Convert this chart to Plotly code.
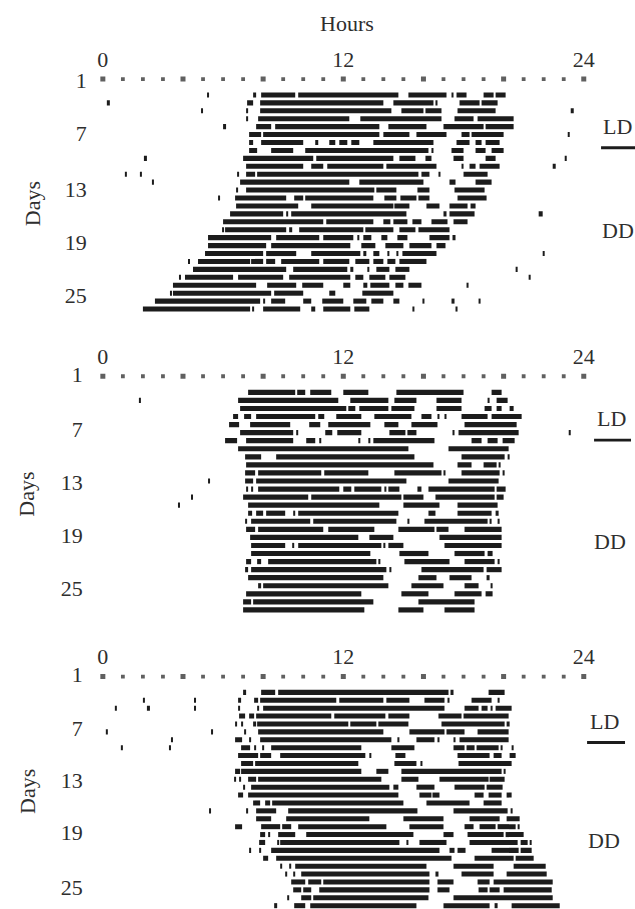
import plotly.graph_objects as go

# ---------------------------------------------------------------------------
# Actogram data: each list holds the activity bouts (start hour, end hour)
# for consecutive rows, starting with the first row below the hour marks.
# ---------------------------------------------------------------------------
HOUR_TICKS = [0, 12, 24]
DAY_TICK_TEXT = ["1", "7", "13", "19", "25"]
HOUR_MARKS = [0, 1, 2, 3, 4, 5, 6, 7, 8, 9, 10, 11, 12,
              13, 14, 15, 16, 17, 18, 19, 20, 21, 22, 23, 24]
MAJOR_MARKS = [0, 4, 8, 12, 16, 20, 24]
FIRST_ACTIVITY_ROW = 2

PANEL1_BOUTS = [
    [(5.2, 5.3), (7.5, 7.65), (7.9, 9.6), (9.75, 14.75), (15.25, 17.15), (17.4, 17.5), (17.65, 18.15), (19.0, 19.5), (19.6, 20.1)],
    [(0.2, 0.35), (7.2, 7.5), (7.85, 14.0), (14.5, 16.5), (16.6, 16.7), (17.8, 18.8), (18.9, 19.7)],
    [(4.9, 5.0), (7.15, 7.25), (7.85, 14.4), (14.9, 16.0), (16.1, 16.9), (17.7, 19.6), (23.35, 23.5)],
    [(7.15, 7.25), (7.75, 12.3), (12.85, 16.9), (17.55, 18.5), (18.7, 20.5)],
    [(6.0, 6.15), (7.65, 8.4), (8.6, 13.8), (14.25, 16.15), (17.0, 19.0), (19.1, 20.5)],
    [(7.3, 7.9), (8.0, 13.8), (14.0, 15.3), (15.65, 17.15), (17.9, 18.3), (18.4, 20.0), (23.2, 23.3)],
    [(7.3, 7.5), (7.9, 10.0), (10.6, 10.75), (11.3, 11.6), (11.8, 12.2), (12.4, 12.8), (13.5, 16.5), (17.65, 18.3), (18.6, 18.9), (19.1, 19.8)],
    [(7.3, 7.7), (8.4, 9.5), (10.1, 16.25), (16.4, 16.5), (17.4, 18.0), (18.6, 19.1), (19.4, 20.0)],
    [(2.05, 2.2), (7.0, 10.5), (10.65, 14.5), (14.8, 15.6), (16.1, 16.4), (17.5, 18.0), (19.1, 19.6), (23.05, 23.15)],
    [(7.15, 10.0), (10.4, 11.0), (11.2, 14.0), (14.15, 16.65), (17.9, 18.0), (18.3, 18.6), (18.8, 19.8), (22.45, 22.6)],
    [(1.1, 1.2), (1.85, 1.95), (6.7, 6.8), (7.15, 7.6), (7.7, 15.75), (15.9, 16.3), (16.75, 16.85), (18.0, 19.2)],
    [(2.45, 2.55), (6.85, 12.3), (12.8, 16.0), (17.3, 17.6), (18.6, 19.4)],
    [(6.65, 6.75), (7.15, 13.55), (13.65, 14.65), (15.7, 16.3), (17.55, 19.05)],
    [(5.75, 5.85), (6.6, 9.15), (9.55, 10.0), (10.1, 13.5), (14.05, 14.65), (14.85, 15.65), (15.75, 16.3), (17.7, 19.15)],
    [(6.65, 9.75), (10.4, 14.5), (14.55, 15.3), (16.15, 16.8), (17.3, 18.2), (18.35, 18.6)],
    [(6.35, 9.0), (9.15, 9.25), (9.4, 15.15), (17.0, 17.15), (17.3, 18.55), (21.75, 21.95)],
    [(6.0, 11.0), (11.15, 13.5), (14.0, 14.35), (14.5, 15.2), (15.45, 15.9), (16.4, 17.2), (17.5, 18.2)],
    [(5.95, 6.05), (6.1, 9.15), (9.3, 9.45), (9.8, 13.0), (13.1, 14.5), (14.8, 15.6), (15.75, 17.3)],
    [(5.25, 8.4), (8.65, 10.8), (11.0, 12.5), (12.7, 12.8), (13.0, 13.4), (13.9, 14.2), (14.7, 15.2), (16.3, 17.3), (17.45, 17.6)],
    [(5.25, 8.15), (8.4, 12.35), (12.9, 13.6), (14.1, 15.0), (15.3, 16.4), (16.65, 17.1)],
    [(5.1, 8.0), (8.15, 9.65), (10.4, 12.85), (13.0, 13.15), (13.5, 13.8), (14.2, 14.3), (14.65, 14.75), (14.95, 16.65), (21.95, 22.05)],
    [(4.25, 4.35), (4.75, 7.35), (7.4, 8.0), (8.15, 8.6), (8.9, 10.8), (11.0, 12.3), (12.6, 13.3), (13.5, 14.0), (14.2, 14.6), (14.8, 16.15)],
    [(4.5, 9.15), (9.5, 12.2), (12.35, 12.5), (13.2, 13.3), (13.65, 14.3), (14.6, 15.3), (20.6, 20.7)],
    [(3.8, 3.9), (4.1, 6.5), (6.75, 9.0), (9.3, 12.35), (12.6, 13.0), (13.3, 14.1), (14.3, 15.1), (21.25, 21.35)],
    [(3.5, 7.65), (8.2, 9.65), (9.95, 11.0), (12.0, 12.35), (13.0, 13.2), (13.35, 14.3), (14.6, 15.0), (15.25, 15.9), (18.15, 18.25)],
    [(3.35, 3.45), (3.5, 8.4), (8.55, 10.0), (11.3, 11.6), (12.95, 14.5)],
    [(2.6, 7.85), (8.0, 8.1), (8.4, 9.1), (10.0, 10.4), (10.95, 12.0), (12.5, 13.15), (13.4, 14.0), (14.5, 14.8), (15.95, 16.05), (17.4, 17.55), (18.75, 18.85)],
    [(2.0, 7.35), (7.45, 7.55), (8.0, 9.85), (10.4, 10.6), (11.0, 12.35), (12.55, 13.3), (15.45, 15.55), (17.6, 17.7)],
]

PANEL2_BOUTS = [
    [(7.25, 9.6), (9.7, 10.1), (10.35, 11.4), (12.0, 13.25), (14.65, 18.0), (19.4, 19.9)],
    [(1.8, 1.9), (6.75, 11.75), (12.35, 14.25), (14.55, 15.65), (16.65, 17.9), (19.2, 19.3), (19.65, 20.2)],
    [(6.85, 12.15), (12.25, 12.6), (12.8, 14.25), (14.4, 15.55), (16.65, 17.9), (19.05, 19.4), (19.65, 19.9), (20.3, 20.5)],
    [(6.5, 6.75), (7.05, 7.4), (7.65, 10.6), (10.75, 11.05), (11.65, 12.9), (13.55, 15.4), (15.9, 16.4), (16.7, 16.8), (17.05, 17.15), (17.9, 19.2), (19.4, 20.9)],
    [(6.3, 6.8), (7.35, 9.35), (10.3, 10.85), (11.25, 13.35), (14.05, 14.75), (15.4, 16.7), (18.05, 20.65)],
    [(6.85, 9.5), (9.65, 9.75), (11.1, 11.45), (11.7, 12.9), (14.3, 15.1), (15.2, 15.65), (17.45, 17.55), (17.75, 20.75), (23.25, 23.35)],
    [(6.1, 6.7), (7.15, 9.5), (10.15, 10.6), (10.8, 10.9), (12.75, 12.85), (13.25, 13.35), (13.5, 16.55), (18.4, 18.9), (19.2, 19.7), (19.95, 20.55)],
    [(6.75, 15.25), (17.25, 20.25)],
    [(7.1, 7.9), (8.65, 15.55), (17.9, 20.05), (20.2, 20.3)],
    [(7.15, 16.5), (17.7, 18.4), (19.0, 19.65), (19.75, 19.85)],
    [(7.1, 7.6), (7.75, 10.9), (11.05, 13.25), (14.55, 16.9), (17.0, 17.1), (17.9, 19.8), (19.95, 20.05)],
    [(5.25, 5.35), (7.1, 7.5), (7.65, 15.15), (17.25, 19.75)],
    [(7.15, 7.25), (7.4, 7.5), (7.75, 11.8), (12.0, 12.4), (12.55, 13.9), (14.05, 14.15), (14.25, 14.8), (15.7, 15.9), (16.25, 19.55), (19.65, 20.1)],
    [(4.4, 4.5), (7.0, 10.25), (10.4, 14.9), (15.0, 16.0), (16.6, 19.55), (19.65, 20.0)],
    [(3.75, 3.85), (7.25, 13.8), (15.0, 16.8), (17.7, 19.7)],
    [(7.25, 7.45), (7.65, 8.0), (8.15, 9.1), (9.5, 9.6), (9.75, 14.75), (16.25, 16.6), (17.7, 19.4), (19.6, 19.75)],
    [(7.1, 7.2), (7.4, 10.35), (10.5, 14.65), (15.2, 15.3), (16.05, 19.2), (19.3, 19.4), (19.7, 19.8)],
    [(7.15, 7.6), (7.75, 11.0), (11.25, 13.55), (14.75, 16.55), (16.65, 17.25), (18.05, 19.9)],
    [(7.35, 12.75), (13.3, 14.5), (16.8, 19.9)],
    [(7.4, 9.1), (9.45, 9.55), (9.75, 13.9), (14.0, 14.1), (14.25, 15.0), (17.05, 19.9)],
    [(7.4, 13.35), (14.8, 16.25), (17.55, 19.05), (19.2, 19.45)],
    [(7.15, 7.4), (7.7, 7.9), (8.25, 13.65), (13.75, 13.85), (15.05, 17.3), (18.05, 19.55), (19.7, 19.8)],
    [(7.1, 7.25), (7.4, 14.15), (14.3, 14.4), (15.9, 19.0), (19.15, 19.9)],
    [(7.25, 14.0), (15.75, 16.65), (17.3, 18.4), (19.15, 19.3)],
    [(7.75, 7.9), (8.0, 14.25), (15.4, 17.0), (18.05, 18.75), (19.35, 19.45)],
    [(7.15, 12.9), (14.9, 16.25), (17.55, 18.9), (19.1, 19.45)],
    [(7.0, 7.4), (7.5, 13.5), (15.75, 18.55)],
    [(7.0, 13.05), (14.75, 16.0), (17.05, 18.55)],
]

PANEL3_BOUTS = [
    [(7.0, 7.15), (7.9, 8.6), (8.75, 17.25), (17.35, 17.5), (19.25, 20.05)],
    [(2.0, 2.1), (4.55, 4.65), (6.75, 6.9), (7.55, 7.75), (7.85, 11.65), (11.8, 14.0), (14.15, 15.3), (16.05, 17.05), (17.2, 17.3), (18.4, 19.4), (19.7, 19.8)],
    [(0.6, 0.7), (2.2, 2.35), (4.55, 4.65), (6.75, 6.85), (7.7, 7.8), (8.0, 17.05), (18.05, 18.75), (18.9, 19.2), (19.35, 19.45), (19.6, 20.4)],
    [(6.8, 7.1), (7.3, 7.55), (7.65, 11.4), (11.55, 14.1), (14.25, 15.3), (16.75, 17.9), (18.0, 20.25)],
    [(6.6, 6.7), (6.9, 7.0), (7.5, 7.65), (7.7, 12.25), (12.35, 13.65), (13.75, 15.25), (16.9, 20.05), (20.15, 20.3)],
    [(0.15, 0.25), (5.4, 5.5), (7.05, 7.15), (7.75, 14.0), (15.3, 17.05), (17.15, 18.05), (18.7, 20.25)],
    [(3.4, 3.5), (6.6, 6.95), (7.3, 7.4), (7.85, 14.4), (14.7, 14.8), (15.65, 16.55), (16.7, 16.8), (17.5, 17.6), (17.8, 20.25)],
    [(0.9, 1.0), (3.3, 3.4), (6.9, 7.35), (7.55, 7.65), (7.95, 8.05), (8.4, 12.9), (14.4, 15.55), (17.5, 18.05), (18.15, 18.55), (18.65, 19.75), (19.85, 19.95), (20.4, 20.5)],
    [(6.75, 7.75), (7.85, 8.4), (8.85, 13.1), (13.3, 13.4), (14.6, 15.1), (17.7, 19.3), (19.5, 19.9), (20.3, 20.6)],
    [(6.9, 7.5), (7.6, 12.75), (14.55, 15.65), (15.85, 15.95), (17.75, 20.4)],
    [(6.6, 6.85), (6.9, 12.9), (13.65, 14.25), (14.9, 19.9), (20.0, 20.1)],
    [(6.55, 6.65), (6.8, 6.9), (7.25, 7.65), (7.75, 13.9), (14.9, 15.75), (16.8, 19.25), (19.3, 20.05)],
    [(7.0, 7.1), (7.4, 14.3), (14.5, 14.75), (15.65, 16.55), (17.55, 19.05), (19.15, 19.95)],
    [(6.75, 7.0), (7.25, 14.75), (15.8, 16.4), (16.45, 16.8), (18.55, 19.0), (19.25, 19.9), (20.15, 20.4)],
    [(7.5, 7.85), (8.1, 8.35), (8.45, 15.0), (16.15, 18.3), (19.0, 19.9)],
    [(5.3, 5.4), (7.15, 7.25), (7.65, 8.65), (9.25, 15.7), (17.5, 20.2), (20.35, 20.45)],
    [(7.65, 8.4), (9.15, 13.3), (15.0, 17.0), (18.3, 19.8), (20.15, 20.8)],
    [(6.6, 6.95), (7.9, 8.85), (8.95, 9.4), (9.75, 14.15), (15.3, 17.0), (18.05, 18.5), (18.8, 19.6), (19.7, 20.6), (20.7, 20.8)],
    [(7.85, 8.1), (8.25, 8.35), (8.75, 9.6), (10.15, 15.5), (17.0, 17.5), (18.2, 20.0), (20.1, 21.0)],
    [(7.8, 8.1), (8.7, 8.8), (8.85, 14.8), (15.15, 15.25), (15.8, 17.15), (18.3, 20.7), (20.85, 21.2), (21.3, 21.4)],
    [(7.3, 7.4), (7.8, 7.9), (8.4, 16.8), (17.3, 17.55), (17.7, 18.1), (19.4, 20.75), (20.85, 21.4)],
    [(8.0, 8.25), (8.65, 17.4), (18.55, 20.5), (20.6, 21.5)],
    [(8.85, 8.95), (9.3, 9.4), (9.6, 16.15), (17.5, 19.5), (20.5, 22.1)],
    [(9.1, 9.2), (9.5, 9.6), (9.9, 16.3), (16.6, 16.75), (17.9, 19.5), (20.15, 22.15)],
    [(9.4, 10.1), (10.25, 10.9), (11.0, 16.3), (16.7, 17.5), (18.7, 19.3), (19.5, 22.45)],
    [(9.5, 9.9), (10.0, 10.4), (10.8, 16.3), (16.7, 17.3), (18.75, 19.2), (19.3, 19.8), (20.0, 22.4)],
    [(9.2, 9.3), (9.9, 10.4), (10.5, 16.25), (17.5, 22.45)],
    [(8.55, 8.7), (9.55, 10.1), (10.35, 15.65), (17.0, 19.3), (19.55, 19.7), (20.4, 22.8)],
]

# ---------------------------------------------------------------------------
# Page geometry (pixels) and styling
# ---------------------------------------------------------------------------
W, H = 635, 909
INK = "#1c1c1c"
TEXT = "#2e2e2e"
FONT = "Liberation Serif"
FONT_SIZE = 22
BAR_THICKNESS = 0.64          # fraction of a row

X_LEFT_PX, X_RIGHT_PX = 95, 595
HOUR0_PX, PX_PER_HOUR = 103.0, 20.07

PANELS = [
    dict(bouts=PANEL1_BOUTS, row0_px=71.7, step_px=8.0, top_row=-0.9, bottom_row=30.0,
         label_px=[73, 126, 183, 236, 290], days_xy=(32, 197),
         ld=(602, 120), ld_line=(602, 640, 141), dd=(601, 224)),
    dict(bouts=PANEL2_BOUTS, row0_px=371.5, step_px=8.13, top_row=-0.9, bottom_row=30.0,
         label_px=[370, 425, 479, 532, 585], days_xy=(27, 490),
         ld=(596, 414), ld_line=(595, 632, 436), dd=(593, 538)),
    dict(bouts=PANEL3_BOUTS, row0_px=674.5, step_px=7.97, top_row=-0.9, bottom_row=(H - 674.5) / 7.97,
         label_px=[672, 727, 779, 832, 887], days_xy=(27, 790),
         ld=(589, 720), ld_line=(588, 626, 741), dd=(587, 840)),
]

x_range = [(X_LEFT_PX - HOUR0_PX) / PX_PER_HOUR, (X_RIGHT_PX - HOUR0_PX) / PX_PER_HOUR]
x_domain = [X_LEFT_PX / W, X_RIGHT_PX / W]
text_font = dict(family=FONT, size=FONT_SIZE, color=TEXT)

fig = go.Figure()
layout_axes = {}
annotations = []
shapes = []

for i, p in enumerate(PANELS, start=1):
    xa = "x" if i == 1 else f"x{i}"
    ya = "y" if i == 1 else f"y{i}"

    # activity bouts as horizontal bars on their rows
    ys, bases, lengths = [], [], []
    for k, row in enumerate(p["bouts"]):
        for start, end in row:
            ys.append(FIRST_ACTIVITY_ROW + k)
            bases.append(start)
            lengths.append(end - start)
    fig.add_trace(go.Bar(
        orientation="h", y=ys, x=lengths, base=bases, width=BAR_THICKNESS,
        marker=dict(color=INK, line=dict(width=0)),
        xaxis=xa, yaxis=ya, showlegend=False, hoverinfo="skip",
    ))

    # hourly marks along the first row
    fig.add_trace(go.Scatter(
        x=HOUR_MARKS, y=[0] * len(HOUR_MARKS), mode="markers",
        marker=dict(symbol="square", color=INK,
                    size=[5.0 if h in MAJOR_MARKS else 3.8 for h in HOUR_MARKS],
                    line=dict(width=0)),
        xaxis=xa, yaxis=ya, showlegend=False, hoverinfo="skip",
    ))

    top_px = p["row0_px"] + p["step_px"] * p["top_row"]
    bot_px = p["row0_px"] + p["step_px"] * p["bottom_row"]
    y_domain = [max(0.0, 1 - bot_px / H), 1 - top_px / H]
    tick_rows = [(px - p["row0_px"]) / p["step_px"] for px in p["label_px"]]

    layout_axes["xaxis" if i == 1 else f"xaxis{i}"] = dict(
        domain=x_domain, range=x_range, anchor=ya, side="top",
        tickmode="array", tickvals=HOUR_TICKS, ticktext=[str(t) for t in HOUR_TICKS],
        showgrid=False, zeroline=False, showline=False, ticks="",
        tickfont=text_font,
    )
    layout_axes["yaxis" if i == 1 else f"yaxis{i}"] = dict(
        domain=y_domain, range=[p["bottom_row"], p["top_row"]], anchor=xa,
        tickmode="array", tickvals=tick_rows, ticktext=DAY_TICK_TEXT,
        showgrid=False, zeroline=False, showline=False, ticks="",
        ticklabelstandoff=7 if i == 1 else 11,
        tickfont=text_font,
    )

    dx_, dy_ = p["days_xy"]
    annotations.append(dict(
        text="Days", textangle=-90, x=dx_ / W, y=1 - dy_ / H,
        xref="paper", yref="paper", xanchor="center", yanchor="middle",
        showarrow=False, font=text_font,
    ))
    lx, ly = p["ld"]
    annotations.append(dict(
        text="LD", x=lx / W, y=1 - ly / H, xref="paper", yref="paper",
        xanchor="left", yanchor="middle", showarrow=False, font=text_font,
    ))
    ddx, ddy = p["dd"]
    annotations.append(dict(
        text="DD", x=ddx / W, y=1 - ddy / H, xref="paper", yref="paper",
        xanchor="left", yanchor="middle", showarrow=False, font=text_font,
    ))
    x0, x1, yl = p["ld_line"]
    shapes.append(dict(
        type="line", xref="paper", yref="paper",
        x0=x0 / W, x1=x1 / W, y0=1 - yl / H, y1=1 - yl / H,
        line=dict(color=INK, width=2.8),
    ))

annotations.append(dict(
    text="Hours", x=348 / W, y=1 - 16 / H, xref="paper", yref="paper",
    xanchor="center", yanchor="middle", showarrow=False, font=text_font,
))

fig.update_layout(
    width=W, height=H,
    margin=dict(l=0, r=0, t=0, b=0),
    paper_bgcolor="white", plot_bgcolor="white",
    barmode="overlay",
    annotations=annotations, shapes=shapes,
    **layout_axes,
)

fig.write_html("out.html")
